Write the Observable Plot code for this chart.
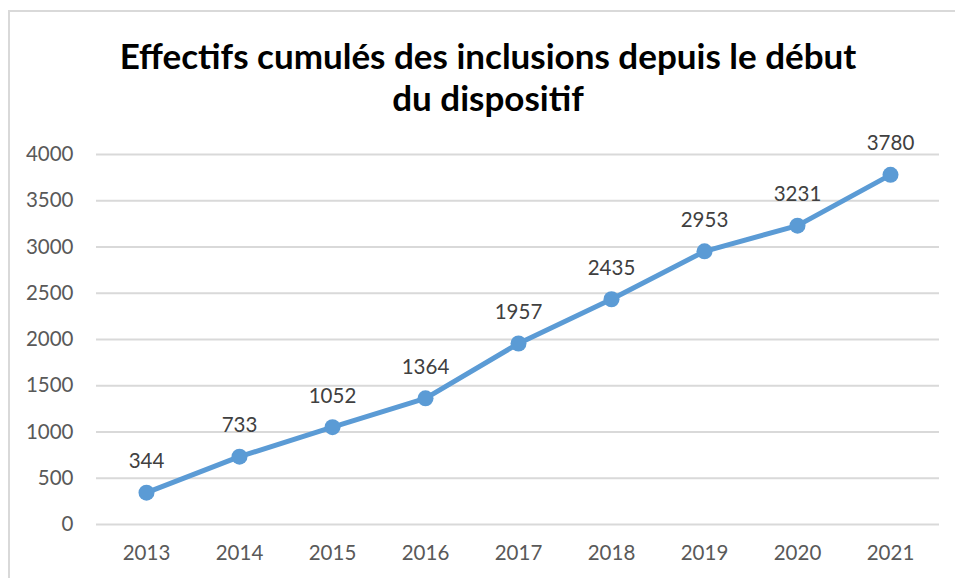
<!DOCTYPE html>
<html><head><meta charset="utf-8">
<script src="https://cdn.jsdelivr.net/npm/d3@7"></script>
<script src="https://cdn.jsdelivr.net/npm/@observablehq/plot@0.6"></script>
<style>
html,body{margin:0;padding:0;background:#fff;}
#wrap{position:relative;width:955px;height:578px;overflow:hidden;}
#frame{position:absolute;left:8px;top:10px;width:1000px;height:1000px;border:2px solid #d9d9d9;box-sizing:border-box;}
#title{position:absolute;left:38px;top:34px;width:900px;text-align:center;font-family:Lato,"Open Sans",sans-serif;font-weight:bold;font-size:35px;line-height:42px;color:#000;}
#chart{position:absolute;left:0;top:0;}
</style></head>
<body>
<div id="wrap"><div id="frame"></div><div id="title">Effectifs cumulés des inclusions depuis le début<br>du dispositif</div><div id="chart"></div></div>
<script>
const years = ["2013","2014","2015","2016","2017","2018","2019","2020","2021"];
const values = [344, 733, 1052, 1364, 1957, 2435, 2953, 3231, 3780];
const yTicks = [0, 500, 1000, 1500, 2000, 2500, 3000, 3500, 4000];
const data = years.map((y, i) => ({year: y, value: values[i]}));
const plot = Plot.plot({
  width: 955, height: 578,
  marginTop: 154, marginBottom: 54, marginLeft: 96, marginRight: 16,
  style: {fontFamily: "Lato, 'Open Sans', sans-serif", fontSize: "20.5px", color: "#595959", background: "transparent"},
  x: {type: "point", domain: years, padding: 0.5, label: null},
  y: {domain: [0, 4000], label: null},
  marks: [
    Plot.ruleY(yTicks, {stroke: "#d9d9d9", strokeWidth: 2}),
    Plot.axisX({tickSize: 0, tickPadding: 21, fontSize: 20.5, fill: "#595959"}),
    Plot.axisY(yTicks, {tickSize: 0, tickPadding: 23, fontSize: 20.5, fill: "#595959", tickFormat: d => String(d)}),
    Plot.line(data, {x: "year", y: "value", stroke: "#5b9bd5", strokeWidth: 5}),
    Plot.dot(data, {x: "year", y: "value", fill: "#5b9bd5", r: 8}),
    Plot.text(data, {x: "year", y: "value", text: d => String(d.value), dy: -31, fontSize: 20.5, fill: "#404040"})
  ]
});
document.getElementById("chart").appendChild(plot);
</script>
</body></html>
